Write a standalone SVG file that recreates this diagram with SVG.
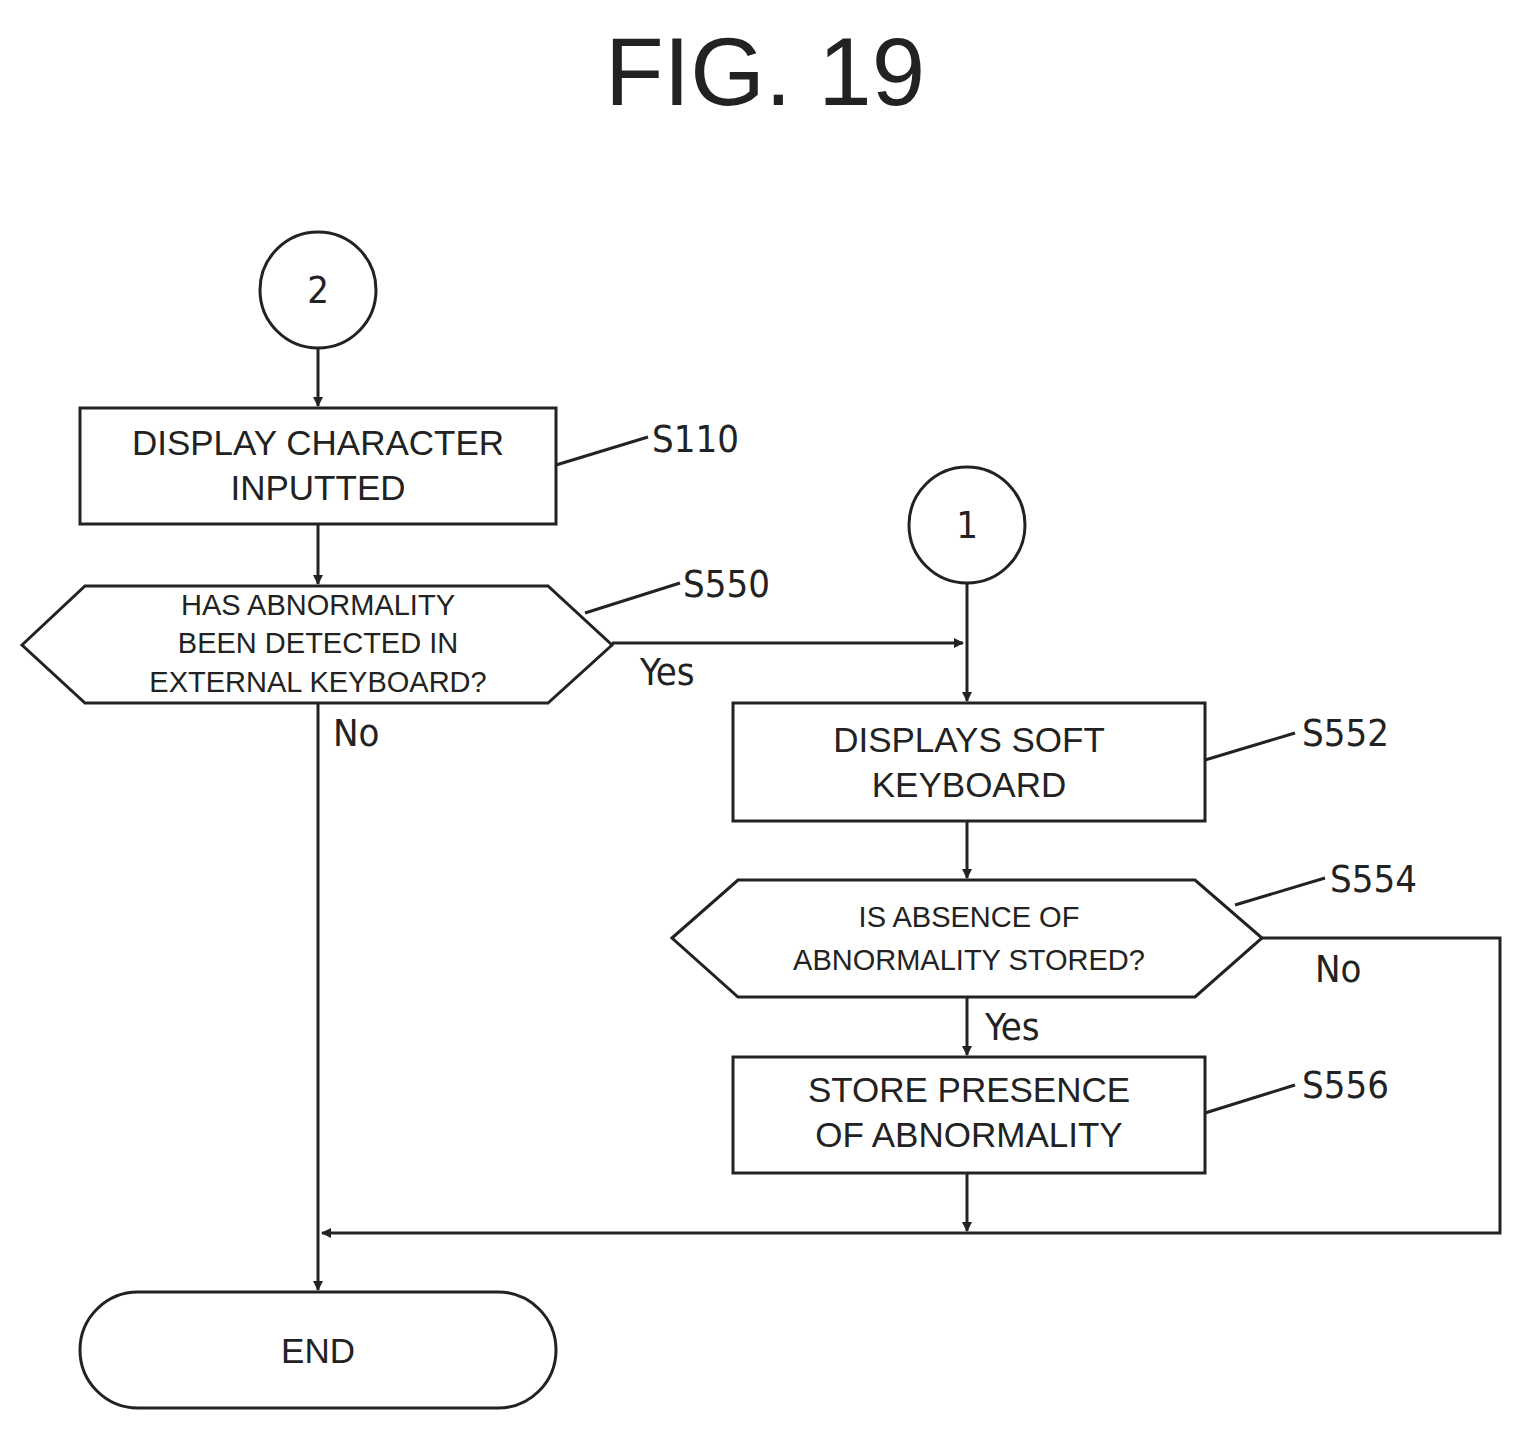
<svg xmlns="http://www.w3.org/2000/svg" width="1523" height="1434" viewBox="0 0 1523 1434">
<defs>
<marker id="ah" markerWidth="10" markerHeight="10" refX="9" refY="5" orient="auto" markerUnits="userSpaceOnUse" viewBox="0 0 10 10">
<path d="M0,0 L10,5 L0,10 z" fill="#222"/>
</marker>
<style>
.s{fill:#fff;stroke:#222;stroke-width:3}
.l{fill:none;stroke:#222;stroke-width:3}
.t{font-family:"Liberation Sans",Arial,sans-serif;fill:#222;text-anchor:middle}
.b{font-size:35px}
.d{font-size:29px}
.lab{font-family:"DejaVu Sans Condensed","Liberation Sans",sans-serif;font-stretch:condensed;font-size:38px;fill:#222}
</style>
</defs>
<rect width="1523" height="1434" fill="#fff"/>
<text x="765" y="105" class="t" font-size="96">FIG. 19</text>
<g id="c2"><circle cx="318" cy="290" r="58" class="s"/><text x="318" y="303" class="lab" text-anchor="middle">2</text></g>
<g id="s110"><rect x="80" y="408" width="476" height="116" class="s"/><text x="318" y="455" class="t b">DISPLAY CHARACTER</text><text x="318" y="500" class="t b">INPUTTED</text>
<text x="652" y="452" class="lab">S110</text></g>
<g id="s550"><polygon points="22,645 85,586 548,586 612,645 548,703 85,703" class="s"/><text x="318" y="615" class="t d">HAS ABNORMALITY</text><text x="318" y="653" class="t d">BEEN DETECTED IN</text><text x="318" y="692" class="t d">EXTERNAL KEYBOARD?</text>
<text x="683" y="597" class="lab">S550</text></g>
<g id="c1"><circle cx="967" cy="525" r="58" class="s"/><text x="967" y="538" class="lab" text-anchor="middle">1</text></g>
<g id="s552"><rect x="733" y="703" width="472" height="118" class="s"/><text x="969" y="752" class="t b">DISPLAYS SOFT</text><text x="969" y="797" class="t b">KEYBOARD</text>
<text x="1302" y="746" class="lab">S552</text></g>
<g id="s554"><polygon points="672,938 738,880 1195,880 1262,938 1195,997 738,997" class="s"/><text x="969" y="927" class="t d">IS ABSENCE OF</text><text x="969" y="970" class="t d">ABNORMALITY STORED?</text>
<text x="1330" y="892" class="lab">S554</text></g>
<g id="s556"><rect x="733" y="1057" width="472" height="116" class="s"/><text x="969" y="1102" class="t b">STORE PRESENCE</text><text x="969" y="1147" class="t b">OF ABNORMALITY</text>
<text x="1302" y="1098" class="lab">S556</text></g>
<g id="end"><rect x="80" y="1292" width="476" height="116" rx="58" class="s"/><text x="318" y="1363" class="t b">END</text></g>
<g id="connectors">
<line x1="318" y1="348" x2="318" y2="406" class="l" marker-end="url(#ah)"/>
<line x1="318" y1="524" x2="318" y2="584" class="l" marker-end="url(#ah)"/>
<line x1="318" y1="703" x2="318" y2="1290" class="l" marker-end="url(#ah)"/>
<line x1="612" y1="643" x2="963" y2="643" class="l" marker-end="url(#ah)"/>
<line x1="967" y1="583" x2="967" y2="701" class="l" marker-end="url(#ah)"/>
<line x1="967" y1="821" x2="967" y2="878" class="l" marker-end="url(#ah)"/>
<line x1="967" y1="997" x2="967" y2="1055" class="l" marker-end="url(#ah)"/>
<line x1="967" y1="1173" x2="967" y2="1231" class="l" marker-end="url(#ah)"/>
<polyline points="1262,938 1500,938 1500,1233 322,1233" class="l" marker-end="url(#ah)"/>
<line x1="556" y1="465" x2="648" y2="437" class="l"/>
<line x1="585" y1="613" x2="680" y2="583" class="l"/>
<line x1="1205" y1="760" x2="1295" y2="733" class="l"/>
<line x1="1235" y1="905" x2="1325" y2="878" class="l"/>
<line x1="1205" y1="1113" x2="1295" y2="1085" class="l"/>
<text x="640" y="685" class="lab">Yes</text>
<text x="333" y="746" class="lab">No</text>
<text x="1315" y="982" class="lab">No</text>
<text x="985" y="1040" class="lab">Yes</text>
</g>
</svg>
